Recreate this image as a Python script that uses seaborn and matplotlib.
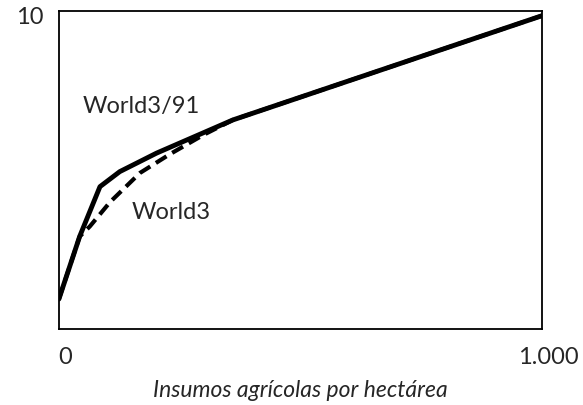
import pandas as pd
import seaborn as sns
import matplotlib.pyplot as plt
import matplotlib.transforms as mtransforms

# Rendimiento vs insumos agricolas
x_world391 = [0, 43, 85, 126, 202, 360, 1000]
y_world391 = [0.95, 2.95, 4.54, 5.02, 5.61, 6.67, 10]

x_world3 = [0, 43, 64, 106, 168, 230, 300, 360, 1000]
y_world3 = [0.95, 2.95, 3.27, 4.05, 4.98, 5.58, 6.2, 6.67, 10]

xtick_vals = [0, 1000]
xtick_labels = ['0', '1.000']
ytick_vals = [10]
ytick_labels = ['10']

df91 = pd.DataFrame({'x': x_world391, 'y': y_world391})
df3 = pd.DataFrame({'x': x_world3, 'y': y_world3})

sns.set_style('white')
plt.rcParams['font.family'] = ['Lato', 'DejaVu Sans']

fig = plt.figure(figsize=(5.83, 4.05), dpi=100)
ax = fig.add_axes([0.101, 0.188, 0.829, 0.785])

sns.lineplot(data=df3, x='x', y='y', color='black', linewidth=3.0,
             ax=ax, sort=False)
ax.lines[-1].set_linestyle((0, (3, 1.6)))
sns.lineplot(data=df91, x='x', y='y', color='black', linewidth=3.5, ax=ax, sort=False)

ax.set_xlim(0, 1000)
ax.set_ylim(0, 10.15)
ax.set_xticks(xtick_vals)
ax.set_xticklabels(xtick_labels)
ax.set_yticks(ytick_vals)
ax.set_yticklabels(ytick_labels)
ax.tick_params(axis='x', length=0, pad=13, labelsize=17)
ax.tick_params(axis='y', length=0, pad=11, labelsize=17)
shift = mtransforms.ScaledTranslation(6 / 100, 0, fig.dpi_scale_trans)
for lbl in ax.get_xticklabels():
    lbl.set_transform(lbl.get_transform() + shift)
for s in ax.spines.values():
    s.set_color('black')
    s.set_linewidth(1.3)

ax.set_ylabel('')
ax.set_xlabel('Insumos agrícolas por hectárea', fontsize=16.5, style='italic', labelpad=9)

ax.text(50, 7.09, 'World3/91', fontsize=17, va='center', ha='left')
ax.text(151, 3.73, 'World3', fontsize=17, va='center', ha='left')

fig.savefig('out.png', dpi=100)
